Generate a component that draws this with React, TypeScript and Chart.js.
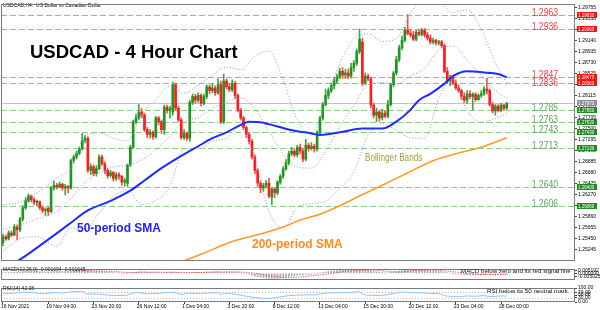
import React, { useEffect, useRef } from "react";
import { Chart, registerables } from "chart.js";

Chart.register(...registerables);

// ---------------- data ----------------
const TIME_IDX = [0, 16, 32, 48, 64, 80, 96, 112, 128, 144, 160, 176];
const TIME_LABELS = ["16 Nov 2021", "19 Nov 04:00", "23 Nov 20:00", "26 Nov 12:00", "1 Dec 04:00", "3 Dec 20:00", "8 Dec 12:00", "13 Dec 04:00", "15 Dec 20:00", "20 Dec 12:00", "23 Dec 04:00", "28 Dec 00:00"];
const PRICE_TICKS = [1.29755, 1.2955, 1.29345, 1.2914, 1.28935, 1.2873, 1.28525, 1.2832, 1.28115, 1.2791, 1.27705, 1.275, 1.27295, 1.2709, 1.26885, 1.2668, 1.26475, 1.2627, 1.26065, 1.2586, 1.25655, 1.2545, 1.25245];

const OPEN = [
  1.2537, 1.2548, 1.2544, 1.2555, 1.2551, 1.2566, 1.2561, 1.2581, 1.2602, 1.2615,
  1.2624, 1.2617, 1.2612, 1.2613, 1.2602, 1.2597, 1.2601, 1.2595, 1.2639, 1.2644,
  1.2641, 1.2646, 1.2639, 1.2642, 1.2639, 1.2690, 1.2697, 1.2704, 1.2712, 1.2728,
  1.2732, 1.2672, 1.2679, 1.2666, 1.2675, 1.2697, 1.2684, 1.2672, 1.2662, 1.2668,
  1.2657, 1.2664, 1.2661, 1.2650, 1.2648, 1.2682, 1.2715, 1.2763, 1.2770, 1.2781,
  1.2775, 1.2748, 1.2739, 1.2743, 1.2735, 1.2770, 1.2763, 1.2748, 1.2790, 1.2784,
  1.2781, 1.2832, 1.2788, 1.2766, 1.2733, 1.2741, 1.2732, 1.2799, 1.2810, 1.2803,
  1.2812, 1.2797, 1.2810, 1.2828, 1.2821, 1.2826, 1.2817, 1.2832, 1.2763, 1.2839,
  1.2828, 1.2823, 1.2835, 1.2812, 1.2784, 1.2770, 1.2752, 1.2739, 1.2726, 1.2697,
  1.2672, 1.2648, 1.2639, 1.2644, 1.2648, 1.2622, 1.2637, 1.2630, 1.2650, 1.2661,
  1.2675, 1.2686, 1.2703, 1.2708, 1.2701, 1.2715, 1.2708, 1.2693, 1.2719, 1.2713,
  1.2717, 1.2712, 1.2743, 1.2770, 1.2795, 1.2812, 1.2821, 1.2830, 1.2839, 1.2846,
  1.2857, 1.2850, 1.2854, 1.2848, 1.2864, 1.2872, 1.2894, 1.2912, 1.2835, 1.2848,
  1.2843, 1.2794, 1.2775, 1.2781, 1.2770, 1.2779, 1.2773, 1.2795, 1.2832, 1.2854,
  1.2879, 1.2901, 1.2915, 1.2934, 1.2928, 1.2925, 1.2917, 1.2930, 1.2926, 1.2934,
  1.2925, 1.2919, 1.2912, 1.2915, 1.2910, 1.2912, 1.2905, 1.2857, 1.2839, 1.2846,
  1.2835, 1.2826, 1.2821, 1.2810, 1.2803, 1.2815, 1.2810, 1.2814, 1.2804, 1.2812,
  1.2815, 1.2824, 1.2821, 1.2795, 1.2783, 1.2792, 1.2784, 1.2794, 1.2788,
];
const HIGH = [
  1.2553, 1.2551, 1.2559, 1.2559, 1.2571, 1.2570, 1.2584, 1.2606, 1.2621, 1.2628,
  1.2626, 1.2621, 1.2617, 1.2615, 1.2606, 1.2602, 1.2604, 1.2642, 1.2652, 1.2648,
  1.2650, 1.2648, 1.2646, 1.2644, 1.2693, 1.2701, 1.2708, 1.2715, 1.2741, 1.2737,
  1.2735, 1.2684, 1.2682, 1.2681, 1.2701, 1.2701, 1.2688, 1.2675, 1.2672, 1.2670,
  1.2668, 1.2668, 1.2662, 1.2657, 1.2684, 1.2719, 1.2766, 1.2777, 1.2795, 1.2788,
  1.2779, 1.2752, 1.2748, 1.2746, 1.2773, 1.2773, 1.2766, 1.2794, 1.2794, 1.2792,
  1.2837, 1.2835, 1.2792, 1.2770, 1.2748, 1.2744, 1.2803, 1.2815, 1.2814, 1.2817,
  1.2815, 1.2814, 1.2832, 1.2832, 1.2834, 1.2830, 1.2843, 1.2839, 1.2852, 1.2843,
  1.2834, 1.2841, 1.2839, 1.2815, 1.2788, 1.2773, 1.2755, 1.2743, 1.2730, 1.2701,
  1.2675, 1.2652, 1.2648, 1.2653, 1.2657, 1.2639, 1.2639, 1.2653, 1.2664, 1.2679,
  1.2692, 1.2708, 1.2715, 1.2712, 1.2719, 1.2721, 1.2712, 1.2730, 1.2723, 1.2724,
  1.2721, 1.2746, 1.2773, 1.2799, 1.2824, 1.2826, 1.2835, 1.2846, 1.2852, 1.2863,
  1.2864, 1.2861, 1.2861, 1.2872, 1.2877, 1.2899, 1.2936, 1.2919, 1.2854, 1.2852,
  1.2846, 1.2797, 1.2788, 1.2784, 1.2786, 1.2784, 1.2803, 1.2835, 1.2857, 1.2885,
  1.2906, 1.2923, 1.2939, 1.2963, 1.2935, 1.2932, 1.2934, 1.2935, 1.2937, 1.2937,
  1.2930, 1.2925, 1.2919, 1.2917, 1.2915, 1.2915, 1.2908, 1.2864, 1.2850, 1.2850,
  1.2841, 1.2832, 1.2824, 1.2817, 1.2821, 1.2821, 1.2817, 1.2817, 1.2815, 1.2821,
  1.2828, 1.2844, 1.2824, 1.2799, 1.2795, 1.2795, 1.2797, 1.2795, 1.2799,
];
const LOW = [
  1.2531, 1.2541, 1.2542, 1.2548, 1.2550, 1.2542, 1.2557, 1.2577, 1.2599, 1.2612,
  1.2613, 1.2608, 1.2606, 1.2599, 1.2593, 1.2588, 1.2588, 1.2593, 1.2635, 1.2637,
  1.2639, 1.2635, 1.2626, 1.2630, 1.2637, 1.2686, 1.2693, 1.2701, 1.2710, 1.2723,
  1.2668, 1.2664, 1.2662, 1.2661, 1.2673, 1.2681, 1.2666, 1.2657, 1.2659, 1.2652,
  1.2653, 1.2655, 1.2644, 1.2642, 1.2642, 1.2679, 1.2713, 1.2759, 1.2766, 1.2770,
  1.2744, 1.2733, 1.2732, 1.2730, 1.2732, 1.2757, 1.2741, 1.2739, 1.2779, 1.2770,
  1.2775, 1.2784, 1.2763, 1.2730, 1.2730, 1.2728, 1.2726, 1.2795, 1.2797, 1.2799,
  1.2792, 1.2794, 1.2806, 1.2815, 1.2817, 1.2812, 1.2814, 1.2759, 1.2759, 1.2824,
  1.2819, 1.2819, 1.2806, 1.2781, 1.2766, 1.2748, 1.2733, 1.2721, 1.2693, 1.2666,
  1.2642, 1.2630, 1.2633, 1.2639, 1.2621, 1.2608, 1.2621, 1.2626, 1.2646, 1.2657,
  1.2672, 1.2682, 1.2699, 1.2697, 1.2697, 1.2703, 1.2688, 1.2690, 1.2708, 1.2710,
  1.2706, 1.2708, 1.2739, 1.2766, 1.2792, 1.2806, 1.2817, 1.2824, 1.2835, 1.2843,
  1.2844, 1.2844, 1.2843, 1.2844, 1.2857, 1.2868, 1.2890, 1.2830, 1.2832, 1.2839,
  1.2788, 1.2770, 1.2763, 1.2764, 1.2766, 1.2770, 1.2770, 1.2792, 1.2828, 1.2850,
  1.2875, 1.2897, 1.2912, 1.2925, 1.2921, 1.2914, 1.2914, 1.2923, 1.2923, 1.2921,
  1.2915, 1.2908, 1.2908, 1.2906, 1.2906, 1.2901, 1.2854, 1.2834, 1.2830, 1.2832,
  1.2823, 1.2817, 1.2804, 1.2799, 1.2797, 1.2806, 1.2785, 1.2801, 1.2803, 1.2808,
  1.2812, 1.2815, 1.2792, 1.2779, 1.2775, 1.2781, 1.2781, 1.2784, 1.2786,
];
const CLOSE = [
  1.2548, 1.2544, 1.2555, 1.2551, 1.2566, 1.2561, 1.2581, 1.2602, 1.2615, 1.2624,
  1.2617, 1.2612, 1.2613, 1.2602, 1.2597, 1.2599, 1.2595, 1.2639, 1.2644, 1.2641,
  1.2646, 1.2639, 1.2642, 1.2639, 1.2690, 1.2697, 1.2704, 1.2712, 1.2728, 1.2732,
  1.2672, 1.2679, 1.2666, 1.2675, 1.2697, 1.2684, 1.2672, 1.2662, 1.2668, 1.2657,
  1.2664, 1.2661, 1.2650, 1.2653, 1.2682, 1.2715, 1.2763, 1.2770, 1.2781, 1.2775,
  1.2748, 1.2739, 1.2743, 1.2735, 1.2770, 1.2763, 1.2748, 1.2790, 1.2784, 1.2788,
  1.2832, 1.2788, 1.2766, 1.2733, 1.2741, 1.2732, 1.2799, 1.2810, 1.2803, 1.2812,
  1.2797, 1.2810, 1.2828, 1.2821, 1.2826, 1.2817, 1.2832, 1.2763, 1.2839, 1.2828,
  1.2823, 1.2835, 1.2812, 1.2784, 1.2770, 1.2752, 1.2739, 1.2726, 1.2697, 1.2672,
  1.2648, 1.2639, 1.2644, 1.2648, 1.2624, 1.2637, 1.2630, 1.2650, 1.2661, 1.2675,
  1.2686, 1.2703, 1.2708, 1.2701, 1.2715, 1.2708, 1.2693, 1.2719, 1.2713, 1.2717,
  1.2712, 1.2743, 1.2770, 1.2795, 1.2812, 1.2821, 1.2830, 1.2839, 1.2846, 1.2857,
  1.2850, 1.2854, 1.2848, 1.2864, 1.2872, 1.2894, 1.2917, 1.2835, 1.2848, 1.2843,
  1.2794, 1.2775, 1.2781, 1.2770, 1.2779, 1.2773, 1.2795, 1.2832, 1.2854, 1.2879,
  1.2901, 1.2915, 1.2934, 1.2928, 1.2925, 1.2917, 1.2930, 1.2926, 1.2934, 1.2925,
  1.2919, 1.2912, 1.2915, 1.2910, 1.2912, 1.2905, 1.2857, 1.2839, 1.2846, 1.2835,
  1.2826, 1.2821, 1.2810, 1.2803, 1.2815, 1.2810, 1.2814, 1.2804, 1.2812, 1.2815,
  1.2824, 1.2821, 1.2795, 1.2783, 1.2792, 1.2784, 1.2794, 1.2788, 1.2797,
];

const BID = 1.2797;
const RES_LEVELS = [1.2963, 1.2936, 1.2847, 1.2836];
const SUP_LEVELS = [1.2785, 1.2763, 1.2743, 1.2713, 1.2640, 1.2606];

const SMA50_IDX = [5, 9, 14, 23, 30, 38, 45, 50, 56, 63, 69, 74, 79, 84, 87, 91, 97, 103, 109, 112, 119, 127, 134, 139, 144, 147, 151, 156, 159, 164, 170, 175, 178];
const SMA50_VAL = [1.2502, 1.2516, 1.2535, 1.2570, 1.2597, 1.2615, 1.2634, 1.2653, 1.2676, 1.2699, 1.2717, 1.2732, 1.2743, 1.2757, 1.2763, 1.2762, 1.2754, 1.2746, 1.2741, 1.2738, 1.2743, 1.2750, 1.2750, 1.2763, 1.2785, 1.2803, 1.2815, 1.2834, 1.2848, 1.2857, 1.2855, 1.2852, 1.2846];

const SMA200_IDX = [64, 70, 81, 91, 99, 105, 112, 119, 126, 134, 144, 152, 160, 169, 178];
const SMA200_VAL = [1.2503, 1.2515, 1.2539, 1.2553, 1.2566, 1.2579, 1.2590, 1.2606, 1.2624, 1.2644, 1.2670, 1.2690, 1.2703, 1.2715, 1.2733];

const BB_IDX = [0, 6, 12, 19, 24, 29, 34, 39, 44, 49, 54, 59, 64, 69, 74, 79, 84, 89, 94, 99, 104, 109, 114, 119, 124, 129, 134, 139, 144, 149, 154, 159, 164, 169, 174, 178];
const BB_UPPER = [1.2608, 1.2612, 1.2630, 1.2657, 1.2676, 1.2737, 1.2742, 1.2732, 1.2727, 1.2777, 1.2804, 1.2830, 1.2816, 1.2831, 1.2850, 1.2865, 1.2860, 1.2885, 1.2895, 1.2841, 1.2766, 1.2741, 1.2799, 1.2871, 1.2917, 1.2927, 1.2913, 1.2918, 1.2965, 1.2995, 1.2988, 1.2967, 1.2972, 1.2936, 1.2873, 1.2836];
const BB_MID = [1.2562, 1.2570, 1.2581, 1.2595, 1.2620, 1.2649, 1.2667, 1.2678, 1.2681, 1.2692, 1.2710, 1.2736, 1.2763, 1.2771, 1.2788, 1.2799, 1.2807, 1.2788, 1.2745, 1.2703, 1.2678, 1.2676, 1.2707, 1.2754, 1.2793, 1.2832, 1.2836, 1.2833, 1.2848, 1.2863, 1.2897, 1.2904, 1.2878, 1.2849, 1.2821, 1.2807];
const BB_LOWER = [1.2521, 1.2544, 1.2548, 1.2530, 1.2564, 1.2562, 1.2592, 1.2624, 1.2634, 1.2608, 1.2616, 1.2642, 1.2712, 1.2712, 1.2727, 1.2732, 1.2754, 1.2693, 1.2595, 1.2565, 1.2603, 1.2610, 1.2615, 1.2638, 1.2669, 1.2738, 1.2759, 1.2747, 1.2733, 1.2732, 1.2806, 1.2842, 1.2784, 1.2762, 1.2769, 1.2778];

const MACD_MAIN = [
  0.0010, 0.0012, 0.0014, 0.0015, 0.0018, 0.0019, 0.0022, 0.0026, 0.0030, 0.0033,
  0.0033, 0.0032, 0.0031, 0.0029, 0.0026, 0.0024, 0.0022, 0.0028, 0.0031, 0.0032,
  0.0033, 0.0033, 0.0032, 0.0032, 0.0038, 0.0042, 0.0046, 0.0049, 0.0053, 0.0055,
  0.0048, 0.0043, 0.0038, 0.0034, 0.0034, 0.0031, 0.0027, 0.0022, 0.0019, 0.0015,
  0.0010, 0.0007, 0.0003, 0.0000, 0.0002, 0.0007, 0.0015, 0.0021, 0.0026, 0.0028,
  0.0024, 0.0019, 0.0016, 0.0012, 0.0014, 0.0014, 0.0011, 0.0014, 0.0015, 0.0016,
  0.0023, 0.0021, 0.0017, 0.0010, 0.0006, 0.0003, 0.0008, 0.0012, 0.0015, 0.0018,
  0.0017, 0.0019, 0.0023, 0.0024, 0.0025, 0.0025, 0.0027, 0.0018, 0.0023, 0.0023,
  0.0022, 0.0024, 0.0021, 0.0014, 0.0007, 0.0000, -0.0008, -0.0018, -0.0030, -0.0043,
  -0.0054, -0.0064, -0.0071, -0.0076, -0.0082, -0.0085, -0.0086, -0.0083, -0.0078, -0.0071,
  -0.0064, -0.0055, -0.0047, -0.0041, -0.0034, -0.0029, -0.0026, -0.0021, -0.0016, -0.0013,
  -0.0010, -0.0004, 0.0005, 0.0014, 0.0022, 0.0030, 0.0036, 0.0042, 0.0046, 0.0050,
  0.0052, 0.0053, 0.0053, 0.0056, 0.0058, 0.0063, 0.0069, 0.0061, 0.0057, 0.0052,
  0.0043, 0.0033, 0.0026, 0.0019, 0.0014, 0.0010, 0.0010, 0.0017, 0.0025, 0.0033,
  0.0040, 0.0047, 0.0053, 0.0056, 0.0057, 0.0056, 0.0055, 0.0053, 0.0052, 0.0049,
  0.0047, 0.0043, 0.0039, 0.0036, 0.0032, 0.0029, 0.0019, 0.0010, 0.0005, -0.0001,
  -0.0007, -0.0012, -0.0018, -0.0022, -0.0024, -0.0025, -0.0026, -0.0026, -0.0026, -0.0025,
  -0.0022, -0.0020, -0.0022, -0.0025, -0.0024, -0.0022, -0.0020, -0.0019, -0.001694,
];
const SIGNAL_IDX = [25, 30, 35, 40, 45, 50, 55, 60, 65, 70, 75, 80, 85, 90, 95, 100, 105, 110, 115, 120, 125, 130, 135, 140, 145, 150, 155, 160, 165, 170, 175, 178];
const SIGNAL_VAL = [0.0031, 0.0043, 0.0040, 0.0028, 0.0012, 0.0018, 0.0019, 0.0016, 0.0015, 0.0013, 0.0021, 0.0023, 0.0019, -0.0005, -0.0046, -0.0075, -0.0062, -0.0036, -0.0010, 0.0025, 0.0047, 0.0056, 0.0037, 0.0020, 0.0044, 0.0054, 0.0044, 0.0021, -0.0008, -0.0023, -0.0023, -0.001645];
const MACD_TICKS = [0.005192, 0, -0.005025];

const RSI_IDX = [0, 4, 8, 11, 15, 18, 21, 24, 28, 30, 33, 37, 40, 43, 46, 48, 51, 54, 57, 60, 63, 66, 69, 72, 76, 77, 78, 82, 85, 88, 91, 94, 97, 101, 104, 107, 110, 113, 117, 120, 123, 126, 127, 130, 133, 136, 139, 142, 145, 148, 151, 154, 156, 158, 161, 164, 167, 170, 172, 174, 176, 178];
const RSI_VAL = [60, 63, 70, 66, 58, 68, 64, 72, 76, 56, 58, 49, 47, 46, 64, 67, 57, 62, 64, 69, 54, 63, 61, 64, 66, 52, 63, 56, 44, 35, 28, 25, 34, 45, 49, 51, 50, 61, 66, 66, 69, 74, 56, 48, 46, 53, 65, 71, 66, 66, 61, 60, 45, 41, 38, 43, 41, 46, 38, 40, 43, 42.08];
const RSI_TICKS = [100, 70, 50, 30, 0];
const RSI_LEVELS = [70, 30];

// ---------------- layout / style ----------------
const FONT = '"Liberation Sans", Arial, sans-serif';
const XMIN = -0.7;
const XMAX = 202.13;
const AXIS_W = 25;
const IDX = OPEN.map((_, i) => i);

const txt = (ctx: CanvasRenderingContext2D, s: string, x: number, y: number, font: string, color: string, align: CanvasTextAlign = "left", sx = 1) => {
  ctx.save();
  ctx.font = font;
  ctx.fillStyle = color;
  ctx.textAlign = align;
  ctx.textBaseline = "alphabetic";
  ctx.translate(x, y);
  ctx.scale(sx, 1);
  ctx.fillText(s, 0, 0);
  ctx.restore();
};

const frame = (chart: any) => {
  const { ctx, chartArea: a } = chart;
  ctx.save();
  ctx.strokeStyle = "#7a7a7a";
  ctx.lineWidth = 1;
  ctx.strokeRect(a.left + 0.5, a.top + 0.5, a.right - a.left - 1, a.bottom - a.top - 1);
  ctx.restore();
};

const rightAxis = (min: number, max: number, ticks: number[], fmt: (v: number) => string) => ({
  type: "linear",
  position: "right",
  min,
  max,
  afterFit: (s: any) => { s.width = AXIS_W; },
  afterBuildTicks: (s: any) => { s.ticks = ticks.map((v) => ({ value: v })); },
  ticks: { autoSkip: false, font: { size: 5, family: FONT }, color: "#000", padding: 1, callback: (v: any) => fmt(Number(v)) },
  grid: { drawOnChartArea: false, drawTicks: true, tickLength: 2, color: "#444" },
  border: { display: false },
});

const hiddenX = { type: "linear", min: XMIN, max: XMAX, display: false, offset: false };

const lineDs = (label: string, xs: number[], ys: number[], color: string, width: number, dash: number[], order: number) => ({
  type: "line",
  label,
  order,
  data: xs.map((x, k) => ({ x, y: ys[k] })),
  borderColor: color,
  borderWidth: width,
  borderDash: dash,
  pointRadius: 0,
  fill: false,
  cubicInterpolationMode: "monotone",
});

const bull = (i: number) => CLOSE[i] >= OPEN[i];

const levelLabel = (ctx: CanvasRenderingContext2D, y: any, v: number, color: string, prev?: number) => {
  let base = Math.round(y.getPixelForValue(v)) + 0.5;
  if (prev !== undefined) {
    const prevBase = Math.round(y.getPixelForValue(prev)) + 0.5;
    if (base - prevBase < 8) base = prevBase + 8;
  }
  txt(ctx, v.toFixed(4), 558, base, `10.5px ${FONT}`, color, "right", 0.82);
};

const mainPlugin = {
  id: "mainDeco",
  beforeDatasetsDraw(chart: any) {
    const { ctx, chartArea: a, scales } = chart;
    const y = scales.y;
    ctx.save();
    ctx.lineWidth = 1;
    const yb = Math.round(y.getPixelForValue(BID)) + 0.5;
    ctx.strokeStyle = "#c4c4c4";
    ctx.beginPath(); ctx.moveTo(a.left, yb); ctx.lineTo(a.right, yb); ctx.stroke();
    ctx.setLineDash([6, 3]);
    const draw = (v: number, c: string) => {
      const yy = Math.round(y.getPixelForValue(v)) + 0.5;
      ctx.strokeStyle = c;
      ctx.beginPath(); ctx.moveTo(a.left, yy); ctx.lineTo(a.right, yy); ctx.stroke();
    };
    RES_LEVELS.forEach((v) => draw(v, "#ff8c8c"));
    SUP_LEVELS.forEach((v) => draw(v, "#8ccc8c"));
    ctx.restore();
  },
  afterDatasetsDraw(chart: any) {
    const { ctx, scales } = chart;
    const y = scales.y;
    RES_LEVELS.forEach((v, k) => levelLabel(ctx, y, v, "#ff3b3b", k > 0 ? RES_LEVELS[k - 1] : undefined));
    SUP_LEVELS.forEach((v, k) => levelLabel(ctx, y, v, "#5ea85e", k > 0 ? SUP_LEVELS[k - 1] : undefined));
    txt(ctx, "USDCAD,H4:  US Dollar vs Canadian Dollar", 3, 7, `5px ${FONT}`, "#000");
    txt(ctx, "USDCAD - 4 Hour Chart", 30, 58, `bold 18.5px ${FONT}`, "#000");
    txt(ctx, "50-period SMA", 77, 232, `bold 12px ${FONT}`, "#1f1fff");
    txt(ctx, "200-period SMA", 252, 248, `bold 12px ${FONT}`, "#ff8c1a");
    txt(ctx, "Bollinger Bands", 365, 161, `10.5px ${FONT}`, "#a39e3b", "left", 0.78);
  },
  afterDraw(chart: any) {
    frame(chart);
    const { ctx, scales } = chart;
    const y = scales.y;
    const box = (v: number, bg: string) => {
      const yy = Math.round(y.getPixelForValue(v));
      ctx.save();
      ctx.fillStyle = bg;
      ctx.fillRect(577, yy - 3, 20, 6);
      ctx.restore();
      txt(ctx, v.toFixed(5), 578, yy + 2, `4.5px ${FONT}`, "#fff");
    };
    RES_LEVELS.forEach((v) => box(v, "#ff1010"));
    box(BID, "#8e8e9e");
    SUP_LEVELS.forEach((v) => box(v, "#1c8c1c"));
  },
};

const macdPlugin = {
  id: "macdDeco",
  afterDraw(chart: any) {
    frame(chart);
    const { ctx } = chart;
    txt(ctx, "MACD(12,26,9) -0.001694 -0.001645", 3, 6, `5px ${FONT}`, "#222");
    txt(ctx, "MACD below zero and its red signal line", 461, 8, `6.2px ${FONT}`, "#111");
  },
};

const rsiPlugin = {
  id: "rsiDeco",
  beforeDatasetsDraw(chart: any) {
    const { ctx, chartArea: a, scales } = chart;
    ctx.save();
    ctx.strokeStyle = "#bdbdbd";
    ctx.lineWidth = 1;
    ctx.setLineDash([1, 2]);
    RSI_LEVELS.forEach((v) => {
      const yy = Math.round(scales.y.getPixelForValue(v)) + 0.5;
      ctx.beginPath(); ctx.moveTo(a.left, yy); ctx.lineTo(a.right, yy); ctx.stroke();
    });
    ctx.restore();
  },
  afterDraw(chart: any) {
    frame(chart);
    const { ctx } = chart;
    txt(ctx, "RSI(14) 42.08", 3, 5.5, `5px ${FONT}`, "#222");
    txt(ctx, "RSI below its 50 neutral mark", 487, 9, `6.2px ${FONT}`, "#111");
  },
};

const baseOptions = {
  responsive: false,
  maintainAspectRatio: false,
  animation: false,
  devicePixelRatio: 1,
  events: [],
  plugins: { legend: { display: false }, tooltip: { enabled: false } },
};

export default function App() {
  const mainRef = useRef<HTMLCanvasElement>(null);
  const macdRef = useRef<HTMLCanvasElement>(null);
  const rsiRef = useRef<HTMLCanvasElement>(null);

  useEffect(() => {
    document.body.style.margin = "0";
    Chart.defaults.font.family = FONT;
    Chart.defaults.color = "#000";

    const main = new Chart(mainRef.current as HTMLCanvasElement, {
      type: "bar",
      data: {
        datasets: [
          lineDs("SMA50", SMA50_IDX, SMA50_VAL, "#1f2bff", 2, [], 0),
          lineDs("SMA200", SMA200_IDX, SMA200_VAL, "#ff9a26", 1.6, [], 0),
          lineDs("BB upper", BB_IDX, BB_UPPER, "#8f8fd4", 1, [1, 2], 1),
          lineDs("BB mid", BB_IDX, BB_MID, "#8f8fd4", 1, [1, 2], 1),
          lineDs("BB lower", BB_IDX, BB_LOWER, "#8f8fd4", 1, [1, 2], 1),
          {
            type: "bar",
            label: "body",
            order: 3,
            grouped: false,
            data: IDX.map((i) => ({ x: i, y: [OPEN[i], CLOSE[i]] })),
            backgroundColor: (c: any) => (bull(c.dataIndex) ? "#1f961f" : "#ff1c1c"),
            barThickness: 2,
            minBarLength: 1,
            borderWidth: 0,
          },
          {
            type: "bar",
            label: "wick",
            order: 4,
            grouped: false,
            data: IDX.map((i) => ({ x: i, y: [LOW[i], HIGH[i]] })),
            backgroundColor: (c: any) => (bull(c.dataIndex) ? "#3aa83a" : "#ff5050"),
            barThickness: 1,
            borderWidth: 0,
          },
        ] as any,
      },
      options: {
        ...baseOptions,
        layout: { padding: { left: 1, top: 1, right: 0, bottom: 0 } },
        scales: {
          x: hiddenX,
          y: rightAxis(1.25026, 1.29828, PRICE_TICKS, (v) => v.toFixed(5)),
        },
      } as any,
      plugins: [mainPlugin],
    });

    const macd = new Chart(macdRef.current as HTMLCanvasElement, {
      type: "bar",
      data: {
        datasets: [
          lineDs("Signal", SIGNAL_IDX, SIGNAL_VAL, "#ff3030", 1, [1, 1.5], 0),
          {
            type: "bar",
            label: "MACD",
            order: 1,
            data: IDX.map((i) => ({ x: i, y: MACD_MAIN[i] })),
            backgroundColor: "#a9a9a9",
            barThickness: 1,
            borderWidth: 0,
          },
        ] as any,
      },
      options: {
        ...baseOptions,
        layout: { padding: { left: 1, top: 0, right: 0, bottom: 0 } },
        scales: {
          x: hiddenX,
          y: rightAxis(-0.0112, 0.0072, MACD_TICKS, (v) => v.toFixed(6)),
        },
      } as any,
      plugins: [macdPlugin],
    });

    const rsi = new Chart(rsiRef.current as HTMLCanvasElement, {
      type: "line",
      data: {
        datasets: [lineDs("RSI", RSI_IDX, RSI_VAL, "#8cc4ff", 1, [], 0)] as any,
      },
      options: {
        ...baseOptions,
        layout: { padding: { left: 1, top: 0, right: 0, bottom: 0 } },
        scales: {
          x: {
            type: "linear",
            min: XMIN,
            max: XMAX,
            offset: false,
            afterFit: (s: any) => { s.height = 8; },
            afterBuildTicks: (s: any) => { s.ticks = TIME_IDX.map((v) => ({ value: v })); },
            ticks: {
              autoSkip: false,
              maxRotation: 0,
              minRotation: 0,
              align: "start",
              labelOffset: -2,
              padding: 0,
              font: { size: 5, family: FONT },
              color: "#000",
              callback: (_v: any, k: number) => TIME_LABELS[k],
            },
            grid: { drawOnChartArea: false, drawTicks: true, tickLength: 2, color: "#444" },
            border: { display: false },
          },
          y: rightAxis(0, 100, RSI_TICKS, (v) => v.toFixed(2)),
        },
      } as any,
      plugins: [rsiPlugin],
    });

    return () => {
      main.destroy();
      macd.destroy();
      rsi.destroy();
    };
  }, []);

  return (
    <div style={{ position: "relative", width: 600, height: 310, background: "#fff", overflow: "hidden" }}>
      <canvas ref={mainRef} width={600} height={265} style={{ position: "absolute", left: 0, top: 0 }} />
      <canvas ref={macdRef} width={600} height={19} style={{ position: "absolute", left: 0, top: 265 }} />
      <canvas ref={rsiRef} width={600} height={26} style={{ position: "absolute", left: 0, top: 284 }} />
    </div>
  );
}
